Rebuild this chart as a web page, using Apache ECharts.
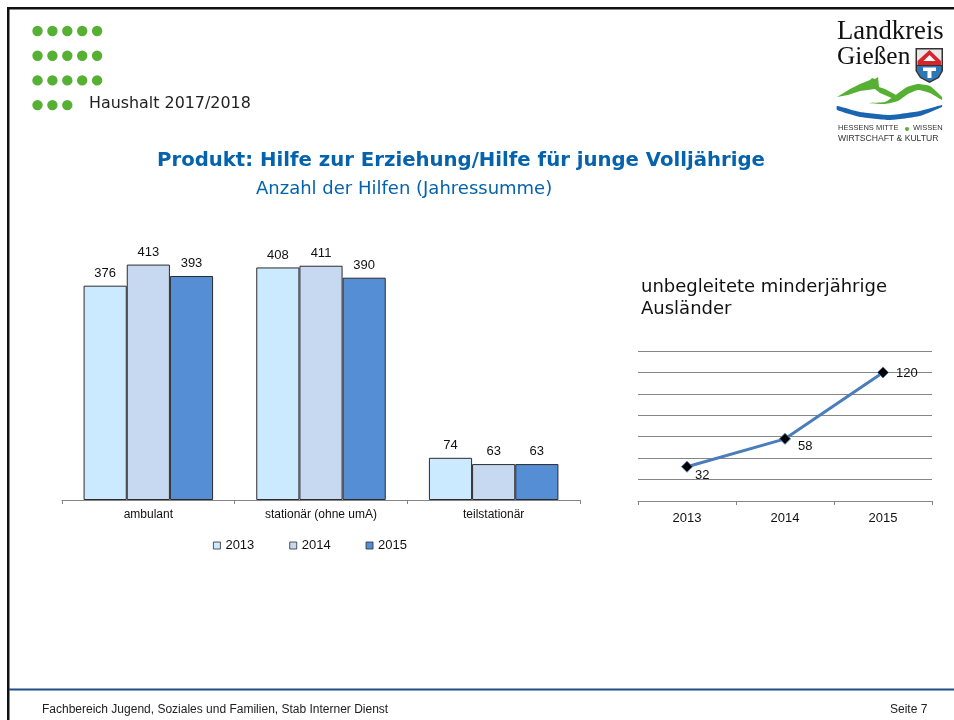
<!DOCTYPE html>
<html>
<head>
<meta charset="utf-8">
<title>Haushalt 2017/2018</title>
<script src="https://cdn.jsdelivr.net/npm/echarts@6/dist/echarts.min.js"></script>
<style>
  html, body { margin: 0; padding: 0; background: #fff; }
  #main { width: 954px; height: 720px; }
</style>
</head>
<body>
<div id="main"></div>
<script>
const hilfeCategories = ['ambulant', 'stationär (ohne umA)', 'teilstationär'];
const hilfe2013 = [376, 408, 74];
const hilfe2014 = [413, 411, 63];
const hilfe2015 = [393, 390, 63];
const umaYears = ['2013', '2014', '2015'];
const umaValues = [32, 58, 120];
const dotRows = [5, 5, 5, 3];

const arial = '"Liberation Sans", Arial, sans-serif';
const slideFont = '"DejaVu Sans", sans-serif';
const serif = '"Liberation Serif", serif';

function text(x, y, str, size, color, font, weight) {
  return {
    type: 'text', x: x, y: y, silent: true,
    style: { text: str, fontSize: size, fill: color, fontFamily: font, fontWeight: weight || 'normal', textVerticalAlign: 'middle' }
  };
}

function poly(points, fill, smooth) {
  return { type: 'polygon', silent: true, shape: { points: points, smooth: smooth || 0 }, style: { fill: fill } };
}

// slide furniture, everything that is not part of the two charts
let furniture = [
  { type: 'rect', silent: true, shape: { x: 7, y: 7, width: 947, height: 2.5 }, style: { fill: '#111' } },
  { type: 'rect', silent: true, shape: { x: 7, y: 7, width: 2.5, height: 713 }, style: { fill: '#111' } },
  { type: 'rect', silent: true, shape: { x: 9, y: 688.5, width: 945, height: 2 }, style: { fill: '#1f4e86' } }
];
dotRows.forEach(function (n, r) {
  for (let i = 0; i < n; i++) {
    furniture.push({
      type: 'circle', silent: true,
      shape: { cx: 37.5 + i * 14.9, cy: 31 + r * 24.7, r: 5.2 },
      style: { fill: '#55b033' }
    });
  }
});
furniture = furniture.concat([
  text(89, 104, 'Haushalt 2017/2018', 15.9, '#222', slideFont),
  text(157, 160.5, 'Produkt: Hilfe zur Erziehung/Hilfe für junge Volljährige', 19.7, '#0563ad', slideFont, 'bold'),
  text(256, 189.5, 'Anzahl der Hilfen (Jahressumme)', 18, '#0563ad', slideFont),
  text(641, 287, 'unbegleitete minderjährige', 18, '#111', slideFont),
  text(641, 309, 'Ausländer', 18, '#111', slideFont),
  text(42, 710, 'Fachbereich Jugend, Soziales und Familien, Stab Interner Dienst', 12, '#222', arial),
  text(890, 710, 'Seite 7', 12, '#222', arial),
  // logo
  text(837, 32, 'Landkreis', 26.7, '#111', serif),
  text(837, 57.5, 'Gießen', 25.4, '#111', serif),
  poly([[915.5, 48], [943, 48], [943, 71], [939, 78], [929.5, 83], [920, 78], [915.5, 71]], '#333'),
  poly([[917, 49.5], [941.5, 49.5], [941.5, 65], [917, 65]], '#e8e8e8'),
  poly([[929.5, 50], [941, 61], [941, 65], [917.5, 65], [917.5, 61]], '#d8232a'),
  poly([[929.5, 55], [935.5, 61], [923.5, 61]], '#fff'),
  poly([[917, 66], [941.5, 66], [941.5, 71], [938, 77], [929.5, 81.5], [921, 77], [917, 71]], '#2f76b5'),
  poly([[923, 67.5], [936, 67.5], [936, 71], [931.5, 71], [931.5, 78], [927.5, 78], [927.5, 71], [923, 71]], '#fff'),
  // green hills and the blue river
  poly([[837, 97], [850, 89], [860, 84], [870, 80], [872, 78], [875, 79], [878, 77], [879, 87], [885, 89], [898, 96], [894, 99], [880, 93], [875, 89], [860, 91], [848, 95]], '#55b033'),
  poly([[868, 103], [885, 102], [897, 94], [907, 87], [918, 84], [930, 86], [942, 97], [942, 100], [930, 93], [918, 90], [908, 94], [898, 101], [885, 104]], '#55b033', 0.15),
  poly([[837, 106], [860, 112], [890, 115], [920, 111], [942, 105], [942, 107], [920, 116], [890, 120], [860, 117], [837, 110]], '#1a64b0', 0.15),
  text(838, 128, 'HESSENS MITTE', 7.5, '#333', arial),
  { type: 'circle', silent: true, shape: { cx: 907, cy: 129, r: 2 }, style: { fill: '#55b033' } },
  text(913, 128, 'WISSEN', 7.5, '#333', arial),
  text(838, 139, 'WIRTSCHAFT & KULTUR', 8.6, '#333', arial)
]);

function barSeries(name, data, color) {
  return {
    name: name, type: 'bar', data: data, xAxisIndex: 0, yAxisIndex: 0,
    barGap: 0, barCategoryGap: '25%',
    itemStyle: { color: color, borderColor: '#2b2b2b', borderWidth: 1 },
    label: { show: true, position: 'top', distance: 6, fontSize: 13, fontFamily: arial, color: '#111' }
  };
}

// offsets of the line labels as placed in the reference
const umaLabelShift = [[-5, 9], [0, 8], [0, 1]];

const chart = echarts.init(document.getElementById('main'), null, { renderer: 'canvas' });
chart.setOption({
  animation: false,
  backgroundColor: '#fff',
  textStyle: { fontFamily: arial },
  graphic: { elements: furniture },
  legend: {
    data: ['2013', '2014', '2015'],
    left: 213, top: 539, padding: 0,
    itemWidth: 7, itemHeight: 7, itemGap: 35,
    icon: 'rect',
    itemStyle: { borderWidth: 0.8, borderColor: '#2b2b2b' },
    textStyle: { fontSize: 13, fontFamily: arial, color: '#111' }
  },
  grid: [
    { left: 62, top: 243.5, width: 518, height: 256.5 },
    { left: 638, top: 351, width: 294, height: 150 }
  ],
  xAxis: [
    {
      type: 'category', gridIndex: 0, data: hilfeCategories,
      axisLine: { lineStyle: { color: '#868686', width: 1 } },
      axisTick: { show: true, length: 4, lineStyle: { color: '#868686' } },
      axisLabel: { fontSize: 12, fontFamily: arial, color: '#111', margin: 9 }
    },
    {
      type: 'category', gridIndex: 1, data: umaYears,
      axisLine: { lineStyle: { color: '#868686', width: 1 } },
      axisTick: { show: true, length: 4, lineStyle: { color: '#868686' } },
      axisLabel: { fontSize: 13, fontFamily: arial, color: '#111', margin: 11 }
    }
  ],
  yAxis: [
    {
      type: 'value', gridIndex: 0, min: 0, max: 450,
      axisLine: { show: false }, axisTick: { show: false }, axisLabel: { show: false },
      splitLine: { show: false }
    },
    {
      type: 'value', gridIndex: 1, min: 0, max: 140, interval: 20,
      axisLine: { show: false }, axisTick: { show: false }, axisLabel: { show: false },
      splitLine: { show: true, lineStyle: { color: '#868686', width: 1 } }
    }
  ],
  series: [
    barSeries('2013', hilfe2013, '#cbeaff'),
    barSeries('2014', hilfe2014, '#c6d9f1'),
    barSeries('2015', hilfe2015, '#558ed5'),
    {
      name: 'umA', type: 'line', xAxisIndex: 1, yAxisIndex: 1, data: umaValues,
      symbol: 'diamond', symbolSize: 11,
      lineStyle: { color: '#4a7ebb', width: 3 },
      itemStyle: { color: '#000', borderColor: '#4a7ebb', borderWidth: 1 },
      label: { show: true, position: 'right', distance: 7, fontSize: 13, fontFamily: arial, color: '#111' },
      labelLayout: function (params) {
        const s = umaLabelShift[params.dataIndex];
        return { dx: s[0], dy: s[1] };
      }
    }
  ]
});
</script>
</body>
</html>
